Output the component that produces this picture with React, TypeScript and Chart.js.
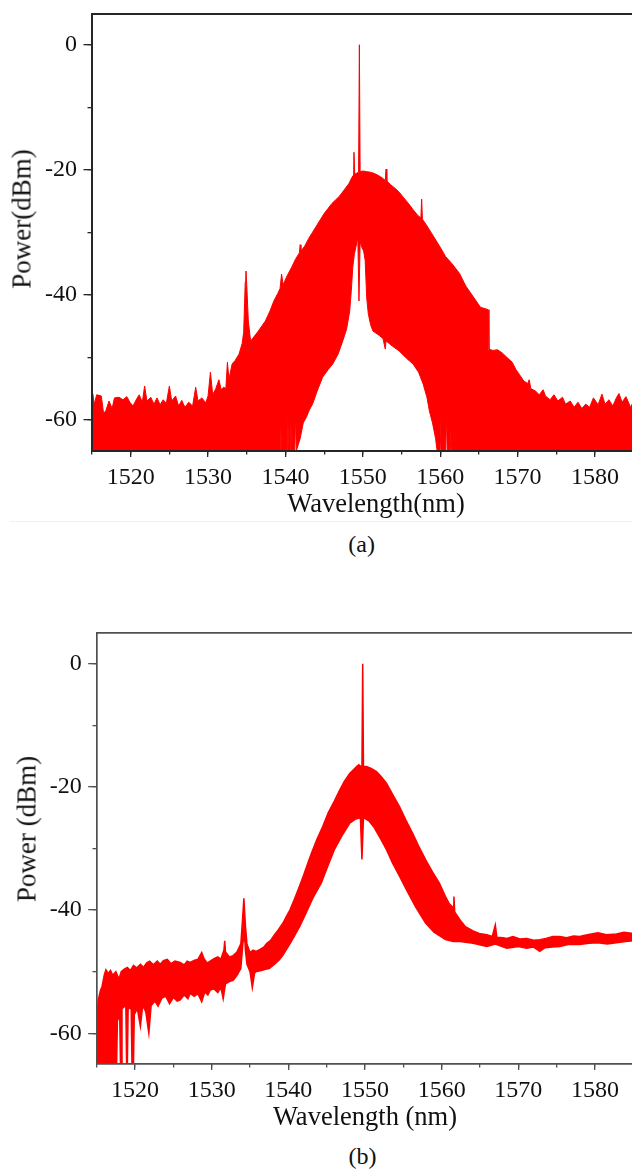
import React, { useEffect, useRef } from 'react';
import { Chart, registerables } from 'chart.js';

Chart.register(...registerables);

const RED = '#ff0000';
const SERIF = '"Liberation Serif", "Times New Roman", serif';

type Pair = [number, number]; // [wavelength nm, power dBm]

// ---------- (a) upper envelope of the spectrum ----------
const aUpper: Pair[] = [
  [1515.0, -58.6], [1515.1, -55.9], [1515.3, -57.5], [1515.6, -56.0], [1516.2, -56.2], [1516.5, -59.0],
  [1516.8, -58.5], [1517.2, -57.0], [1517.6, -58.2], [1517.9, -56.5], [1518.5, -56.4], [1519.0, -56.8],
  [1519.5, -56.3], [1519.9, -57.2], [1520.3, -57.8], [1520.8, -56.6], [1521.1, -56.0], [1521.5, -57.2],
  [1521.8, -54.6], [1522.1, -57.0], [1522.6, -56.4], [1523.0, -57.5], [1523.4, -56.5], [1523.8, -57.6],
  [1524.2, -56.8], [1524.6, -57.4], [1525.0, -54.6], [1525.3, -57.0], [1525.8, -56.2], [1526.2, -57.8],
  [1526.6, -56.9], [1527.0, -58.0], [1527.5, -57.2], [1528.0, -57.8], [1528.4, -54.8], [1528.7, -57.0],
  [1529.2, -56.5], [1529.7, -57.3], [1530.0, -56.2], [1530.3, -52.4], [1530.6, -56.0], [1531.0, -55.0],
  [1531.4, -53.6], [1531.7, -55.2], [1532.0, -54.8], [1532.3, -55.0], [1532.5, -50.8], [1532.7, -53.5],
  [1533.1, -51.1], [1533.5, -50.5], [1534.0, -49.5], [1534.4, -47.8], [1534.6, -46.0], [1534.8, -38.0],
  [1534.9, -36.2], [1535.0, -38.5], [1535.2, -44.2], [1535.5, -47.4], [1536.0, -46.6], [1536.5, -45.8],
  [1537.0, -44.9], [1537.4, -44.2], [1538.0, -42.6], [1538.5, -41.0], [1539.0, -39.8], [1539.3, -39.0],
  [1539.5, -36.7], [1539.7, -38.4], [1540.2, -37.0], [1540.8, -35.6], [1541.3, -34.3], [1541.8, -33.3],
  [1541.9, -32.0], [1542.0, -33.0], [1542.5, -32.2], [1543.0, -31.0], [1543.5, -30.0], [1544.0, -29.0],
  [1544.5, -28.0], [1545.0, -27.0], [1545.5, -26.2], [1546.0, -25.4], [1546.5, -24.8], [1547.0, -24.2],
  [1547.6, -23.2], [1548.2, -22.2], [1548.6, -21.2], [1548.75, -20.9], [1548.85, -17.2], [1548.95, -20.7],
  [1549.45, -20.4], [1549.55, 0], [1549.65, -20.3], [1550.0, -20.2], [1550.5, -20.3], [1551.0, -20.4],
  [1551.5, -20.6], [1552.0, -20.9], [1552.5, -21.3], [1552.9, -21.7], [1553.0, -19.9], [1553.1, -21.8],
  [1553.6, -22.4], [1554.2, -23.0], [1554.7, -23.6], [1555.3, -24.5], [1555.9, -25.4], [1556.5, -26.4],
  [1557.1, -27.3], [1557.5, -27.7], [1557.6, -24.7], [1557.7, -27.9], [1558.3, -29.0], [1558.9, -30.2],
  [1559.5, -31.4], [1560.0, -32.4], [1560.7, -33.9], [1561.5, -35.0], [1562.5, -36.6], [1563.3, -38.6],
  [1564.2, -40.2], [1565.2, -42.0], [1566.0, -42.3], [1566.2, -42.4], [1566.3, -48.7], [1566.8, -48.9],
  [1567.4, -48.8], [1568.0, -49.3], [1568.6, -50.0], [1569.3, -50.8], [1569.8, -52.0], [1570.2, -52.7],
  [1570.8, -53.8], [1571.3, -54.2], [1571.5, -53.6], [1571.7, -55.0], [1572.3, -55.4], [1572.8, -56.0],
  [1573.3, -55.2], [1573.6, -56.2], [1574.2, -56.8], [1574.7, -56.0], [1575.2, -57.0], [1575.8, -56.4],
  [1576.2, -57.5], [1576.8, -57.0], [1577.3, -58.0], [1577.8, -57.2], [1578.3, -58.2], [1578.8, -57.5],
  [1579.3, -58.0], [1579.8, -56.5], [1580.4, -57.6], [1580.9, -55.9], [1581.3, -57.5], [1581.8, -56.8],
  [1582.3, -57.8], [1582.8, -56.4], [1583.1, -55.8], [1583.5, -57.2], [1584.0, -56.3], [1584.6, -58.0],
  [1585.0, -57.0],
];

// ---------- (a) lower envelope (the comb minima) ----------
const aLower: Pair[] = [
  [1515.0, -65], [1539.3, -65], [1539.4, -61], [1539.5, -65], [1540.2, -65], [1540.3, -59.4],
  [1540.4, -65], [1540.6, -65], [1540.7, -60], [1540.8, -65], [1541.2, -65], [1541.3, -59],
  [1541.4, -65], [1541.9, -63], [1542.3, -60.5], [1542.7, -59.6], [1543.1, -58.4], [1543.5, -57.5],
  [1544.1, -55.4], [1544.8, -53.2], [1545.5, -52.0], [1546.1, -51.1], [1546.8, -49.5], [1547.4, -47.4],
  [1547.9, -45.5], [1548.3, -42.6], [1548.5, -39.5], [1548.7, -35.6], [1548.9, -33.5], [1549.1, -32.4],
  [1549.35, -30.8], [1549.5, -41], [1549.65, -31.5], [1549.9, -32.5], [1550.1, -33.0], [1550.3, -34.5],
  [1550.5, -40.5], [1550.7, -43.0], [1551.0, -44.8], [1551.3, -45.8], [1552.0, -46.4], [1552.6, -47.0],
  [1552.9, -48.7], [1553.0, -47.4], [1553.8, -48.2], [1554.7, -49.0], [1555.5, -50.0], [1556.5, -51.1],
  [1557.2, -52.4], [1557.8, -54.3], [1558.3, -56.5], [1558.6, -58.6], [1559.0, -60.5], [1559.4, -63],
  [1559.6, -65], [1560.0, -65], [1560.1, -60], [1560.2, -65], [1560.7, -65], [1560.8, -59],
  [1560.9, -65], [1561.3, -65], [1561.4, -61], [1561.5, -65], [1585.0, -65],
];

// ---------- (b) upper edge of the spectrum band ----------
const bUpper: Pair[] = [
  [1515.0, -58.0], [1515.2, -54.6], [1515.5, -53.0], [1515.7, -52.4], [1516.0, -50.5], [1516.2, -49.7],
  [1516.5, -50.3], [1516.8, -49.8], [1517.1, -50.6], [1517.5, -50.0], [1517.9, -51.2], [1518.2, -50.0],
  [1518.6, -49.6], [1519.0, -49.3], [1519.4, -49.8], [1519.8, -49.0], [1520.2, -49.4], [1520.7, -48.8],
  [1521.1, -49.3], [1521.5, -48.6], [1521.9, -48.3], [1522.4, -48.9], [1522.9, -48.3], [1523.3, -48.8],
  [1523.7, -48.2], [1524.2, -48.0], [1524.7, -48.7], [1525.2, -48.3], [1525.9, -48.5], [1526.4, -48.9],
  [1526.8, -48.3], [1527.2, -48.5], [1527.7, -48.2], [1528.2, -48.0], [1528.7, -46.9], [1529.0, -47.9],
  [1529.4, -48.6], [1529.8, -48.3], [1530.3, -47.9], [1530.8, -47.6], [1531.2, -48.0], [1531.6, -46.5],
  [1531.7, -45.0], [1531.8, -46.8], [1532.3, -47.6], [1532.8, -47.4], [1533.3, -46.8], [1533.8, -45.5],
  [1534.0, -42.0], [1534.2, -38.1], [1534.4, -42.5], [1534.6, -45.5], [1535.0, -46.9], [1535.4, -46.5],
  [1535.8, -46.7], [1536.3, -46.4], [1536.8, -46.0], [1537.2, -45.4], [1537.7, -44.9], [1538.2, -44.0],
  [1538.7, -43.2], [1539.3, -42.1], [1539.8, -40.9], [1540.2, -40.0], [1540.8, -38.2], [1541.4, -36.3],
  [1542.0, -34.3], [1542.4, -32.9], [1543.0, -30.8], [1543.7, -28.6], [1544.5, -26.4], [1545.2, -24.2],
  [1546.0, -22.3], [1546.7, -20.5], [1547.3, -19.1], [1548.0, -17.8], [1548.5, -17.2], [1548.9, -16.7],
  [1549.2, -16.4], [1549.6, -16.8], [1549.7, 0], [1549.8, -16.7], [1550.2, -16.7], [1550.8, -17.0],
  [1551.5, -17.5], [1552.1, -18.3], [1552.8, -19.4], [1553.6, -21.2], [1554.5, -23.2], [1555.3, -25.3],
  [1556.2, -27.5], [1557.0, -29.6], [1557.9, -31.8], [1558.8, -33.8], [1559.7, -35.6], [1560.5, -37.8],
  [1561.0, -39.0], [1561.5, -39.6], [1561.6, -37.8], [1561.7, -40.3], [1562.4, -41.6], [1563.1, -42.7],
  [1564.1, -43.4], [1564.9, -43.8], [1565.9, -44.0], [1566.6, -44.3], [1567.0, -42.4], [1567.2, -44.4],
  [1568.0, -44.5], [1568.5, -44.6], [1569.3, -44.3], [1570.2, -44.7], [1571.1, -44.6], [1572.0, -44.9],
  [1572.8, -44.8], [1573.6, -44.6], [1574.5, -44.3], [1575.4, -44.3], [1576.3, -44.5], [1577.2, -44.2],
  [1578.0, -44.3], [1579.0, -44.0], [1580.4, -43.7], [1581.5, -44.0], [1582.8, -43.9], [1583.8, -43.6],
  [1585.0, -43.8],
];

// ---------- (b) lower edge of the spectrum band ----------
const bLower: Pair[] = [
  [1515.0, -65], [1517.6, -65], [1517.7, -58.0], [1518.0, -57.0], [1518.1, -65], [1518.2, -65],
  [1518.3, -56.0], [1518.8, -55.5], [1518.9, -65], [1519.0, -65], [1519.1, -56.0], [1519.5, -56.0],
  [1519.6, -65], [1519.8, -65], [1519.9, -57.0], [1520.3, -56.0], [1520.7, -58.9], [1521.0, -55.5],
  [1521.4, -56.5], [1521.8, -60.0], [1522.1, -55.5], [1522.6, -54.8], [1523.0, -55.6], [1523.5, -54.3],
  [1524.0, -54.0], [1524.5, -55.2], [1525.0, -54.2], [1525.5, -54.8], [1525.9, -54.6], [1526.4, -53.8],
  [1526.9, -54.4], [1527.2, -53.5], [1527.7, -54.0], [1528.2, -53.6], [1528.7, -54.9], [1529.1, -53.3],
  [1529.5, -53.8], [1529.8, -53.0], [1530.3, -52.8], [1530.8, -53.4], [1531.2, -52.6], [1531.5, -54.4],
  [1531.8, -52.0], [1532.3, -51.6], [1532.8, -51.4], [1533.3, -50.6], [1533.8, -49.5], [1534.1, -45.0],
  [1534.2, -42.0], [1534.4, -46.5], [1534.6, -48.8], [1535.0, -50.0], [1535.3, -52.6], [1535.6, -50.2],
  [1535.8, -50.0], [1536.5, -49.8], [1537.0, -49.6], [1537.5, -49.5], [1538.2, -48.8], [1538.8, -48.1],
  [1539.3, -47.3], [1539.8, -46.3], [1540.2, -45.5], [1540.8, -44.2], [1541.5, -42.6], [1542.3, -40.5],
  [1543.3, -37.8], [1544.3, -35.6], [1545.1, -33.0], [1546.0, -30.2], [1547.0, -27.9], [1548.0, -25.9],
  [1548.8, -25.2], [1549.4, -25.0], [1549.6, -31.8], [1549.8, -25.0], [1550.5, -25.5], [1551.2, -26.6],
  [1551.9, -28.1], [1552.8, -30.2], [1553.6, -32.4], [1554.5, -34.5], [1555.4, -36.7], [1556.6, -39.5],
  [1557.9, -42.1], [1559.0, -43.6], [1560.5, -44.8], [1561.5, -45.1], [1562.4, -45.1], [1564.1, -45.4],
  [1565.9, -45.9], [1567.0, -45.5], [1568.5, -46.2], [1570.0, -45.9], [1571.1, -46.2], [1572.0, -46.0],
  [1572.8, -46.7], [1573.5, -46.1], [1574.5, -46.0], [1575.4, -45.9], [1576.5, -45.6], [1578.0, -45.6],
  [1579.2, -45.4], [1580.4, -45.3], [1581.6, -45.5], [1582.8, -45.3], [1584.0, -45.1], [1585.0, -45.0],
];

// ---------- ticks ----------
const xMajorTicks = [1520, 1530, 1540, 1550, 1560, 1570, 1580];
const xMinorTicks = [1515, 1520, 1525, 1530, 1535, 1540, 1545, 1550, 1555, 1560, 1565, 1570, 1575, 1580, 1585];
const yMajorTicks = [-60, -40, -20, 0];
const yMinorTicks = [-60, -50, -40, -30, -20, -10, 0];
const yRange = [-65, 5];

interface PanelProps {
  upper: Pair[];
  lower: Pair[];
  xMin: number;
  xMax: number;
  xTitle: string;
  top: number;
  width: number;
  height: number;
  padTop: number;
  padRight: number;
  yWidth: number;
  axisColor: string;
  axisWidth: number;
  lineWidth: number;
}

function SpectrumPanel(p: PanelProps) {
  const ref = useRef<HTMLCanvasElement>(null);
  useEffect(() => {
    const toPts = (arr: Pair[]) => arr.map(([x, y]) => ({ x, y }));
    const setTicks = (vals: number[]) => (s: any) => {
      s.ticks = vals.map((v) => ({ value: v }));
    };
    const grid = (len: number) => ({
      display: true,
      drawOnChartArea: false,
      drawTicks: true,
      tickLength: len,
      color: p.axisColor,
      lineWidth: 1.3,
    });
    const tickFont = { family: SERIF, size: 24 };
    const chart = new Chart(ref.current as HTMLCanvasElement, {
      type: 'line',
      data: {
        datasets: [
          {
            label: 'upper',
            data: toPts(p.upper),
            borderColor: RED,
            borderWidth: p.lineWidth,
            pointRadius: 0,
            fill: false,
            tension: 0,
          },
          {
            label: 'lower',
            data: toPts(p.lower),
            borderColor: RED,
            borderWidth: p.lineWidth,
            backgroundColor: RED,
            pointRadius: 0,
            fill: '-1',
            tension: 0,
          },
        ],
      },
      options: {
        animation: false,
        responsive: false,
        events: [],
        layout: { padding: { top: p.padTop, right: p.padRight, bottom: 0, left: 0 } },
        plugins: { legend: { display: false }, tooltip: { enabled: false } },
        scales: {
          x: {
            type: 'linear',
            position: 'bottom',
            min: p.xMin,
            max: p.xMax,
            afterBuildTicks: setTicks(xMajorTicks),
            afterFit: (s: any) => {
              s.height = 70;
              s.paddingLeft = 0;
              s.paddingRight = 0;
            },
            ticks: {
              font: tickFont,
              color: '#111',
              padding: 6.3,
              autoSkip: false,
              maxRotation: 0,
              callback: (v: any) => String(v),
            },
            grid: grid(6),
            border: { display: true, color: p.axisColor, width: p.axisWidth, z: 1 },
            title: {
              display: true,
              text: p.xTitle,
              color: '#111',
              font: { family: SERIF, size: 26.5 },
              padding: { top: 0, bottom: 0 },
            },
          },
          xMinor: {
            type: 'linear',
            axis: 'x',
            position: { y: yRange[0] },
            min: p.xMin,
            max: p.xMax,
            afterBuildTicks: setTicks(xMinorTicks),
            ticks: { display: false },
            grid: grid(3.5),
            border: { display: false },
          },
          xTop: {
            type: 'linear',
            axis: 'x',
            position: 'top',
            min: p.xMin,
            max: p.xMax,
            ticks: { display: false },
            grid: { display: false, drawTicks: false },
            border: { display: true, color: p.axisColor, width: p.axisWidth, z: 1 },
          },
          y: {
            type: 'linear',
            position: 'left',
            min: yRange[0],
            max: yRange[1],
            afterBuildTicks: setTicks(yMajorTicks),
            afterFit: (s: any) => {
              s.width = p.yWidth;
              s.paddingTop = 0;
              s.paddingBottom = 0;
            },
            ticks: {
              font: tickFont,
              color: '#111',
              padding: 6.5,
              callback: (v: any) => String(v),
            },
            grid: grid(8.5),
            border: { display: true, color: p.axisColor, width: p.axisWidth, z: 1 },
          },
          yMinor: {
            type: 'linear',
            axis: 'y',
            position: { x: p.xMin },
            min: yRange[0],
            max: yRange[1],
            afterBuildTicks: setTicks(yMinorTicks),
            ticks: { display: false },
            grid: grid(4.5),
            border: { display: false },
          },
        },
      } as any,
    });
    return () => chart.destroy();
  }, []);
  return (
    <canvas
      ref={ref}
      width={p.width}
      height={p.height}
      style={{ position: 'absolute', left: 0, top: p.top, width: p.width, height: p.height, display: 'block' }}
    />
  );
}

function Label(props: { text: string; cx: number; cy: number; size: number; rotate?: boolean }) {
  const { text, cx, cy, size, rotate } = props;
  return (
    <div
      style={{
        position: 'absolute',
        left: cx,
        top: cy,
        transform: `translate(-50%, -50%)${rotate ? ' rotate(-90deg)' : ''}`,
        fontFamily: SERIF,
        fontSize: size,
        lineHeight: 1,
        whiteSpace: 'nowrap',
        color: '#111',
      }}
    >
      {text}
    </div>
  );
}

export default function App() {
  return (
    <div
      style={{
        position: 'fixed',
        left: 0,
        top: 0,
        width: 632,
        height: 1170,
        overflow: 'hidden',
        background: '#ffffff',
      }}
    >
      <SpectrumPanel
        upper={aUpper}
        lower={aLower}
        xMin={1515}
        xMax={1588.4}
        xTitle="Wavelength(nm)"
        top={0}
        width={680}
        height={521}
        padTop={13.5}
        padRight={20}
        yWidth={92}
        axisColor="#262626"
        axisWidth={2}
        lineWidth={1}
      />
      <Label text="Power(dBm)" cx={22} cy={219} size={27} rotate />
      <div style={{ position: 'absolute', left: 10, top: 521, width: 622, height: 1, background: '#f0f0f0' }} />
      <Label text="(a)" cx={361.7} cy={543.5} size={24} />

      <SpectrumPanel
        upper={bUpper}
        lower={bLower}
        xMin={1515}
        xMax={1585}
        xTitle="Wavelength (nm)"
        top={620}
        width={640}
        height={514}
        padTop={13}
        padRight={6.7}
        yWidth={96.7}
        axisColor="#505050"
        axisWidth={1.7}
        lineWidth={1.5}
      />
      <Label text="Power (dBm)" cx={27} cy={828.5} size={27} rotate />
      <Label text="(b)" cx={362.5} cy={1156} size={24} />
    </div>
  );
}
